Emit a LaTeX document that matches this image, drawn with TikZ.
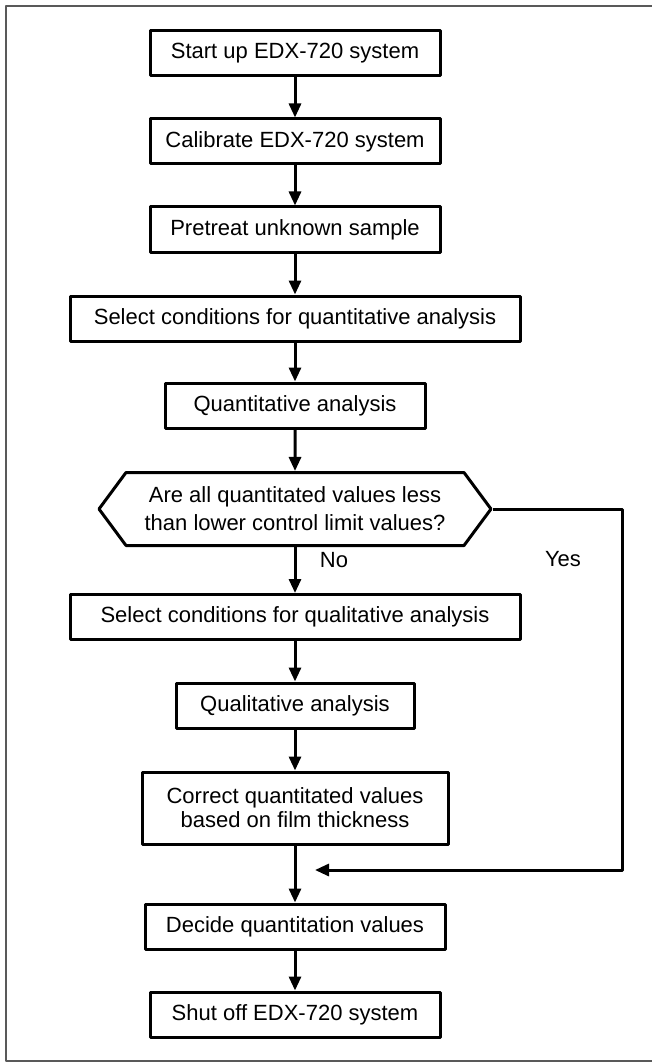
\documentclass[tikz,border=0pt]{standalone}
\usepackage{fontspec}
\setmainfont{Liberation Sans}
\usetikzlibrary{shapes.symbols,arrows.meta}

\begin{document}
\begin{tikzpicture}[x=0.5pt,y=-0.5pt,>={Triangle[length=7pt,width=6pt]},line join=round,
  font=\fontsize{11}{12}\selectfont,
  box/.style={draw,line width=1.5pt,minimum height=22.5pt,inner sep=0pt,align=center},
  decision/.style={draw,line width=1.5pt,shape=signal,signal to=west and east,signal pointer angle=107,inner sep=0pt,align=center},
  link/.style={line width=1.5pt,->}]
	\useasboundingbox (0,0) rectangle (652,1064);
	\draw[black!65,line width=1pt] (660,6)--(6,6)--(6,1061)--(660,1061);
	\node[box,minimum width=145pt] (start) at (295,53) {Start up EDX-720 system};
	\node[box,minimum width=145pt] (calib) at (295,141.5) {Calibrate EDX-720 system};
	\node[box,minimum width=145pt] (pretreat) at (295,229.5) {Pretreat unknown sample};
	\node[box,minimum width=225pt] (selquant) at (295,318.5) {Select conditions for quantitative analysis};
	\node[box,minimum width=130pt] (quant) at (295,405.5) {Quantitative analysis};
	\node[decision,minimum width=196pt,minimum height=36.5pt] (check) at (295,509) {Are all quantitated values less\\[2pt] than lower control limit values?};
	\node[box,minimum width=225pt] (selqual) at (295,617) {Select conditions for qualitative analysis};
	\node[box,minimum width=119pt] (qual) at (295,705.5) {Qualitative analysis};
	\node[box,minimum width=153pt,minimum height=36pt] (correct) at (295,808) {Correct quantitated values\\ based on film thickness};
	\node[box,minimum width=150pt] (decide) at (295,926.5) {Decide quantitation values};
	\node[box,minimum width=145pt] (shut) at (295,1014.5) {Shut off EDX-720 system};
	\node (no) at (334,560) {No};
	\node (yes) at (563,559) {Yes};
	\coordinate (yesend) at (315,870);
	\draw[link] (start) -- (calib);
	\draw[link] (calib) -- (pretreat);
	\draw[link] (pretreat) -- (selquant);
	\draw[link] (selquant) -- (quant);
	\draw[link] (quant) -- (check);
	\draw[link] (check) -- (selqual);
	\draw[link] (selqual) -- (qual);
	\draw[link] (qual) -- (correct);
	\draw[link] (correct) -- (decide);
	\draw[link] (decide) -- (shut);
	\draw[link] (check.east) -- ++(130,0) |- (yesend);
\end{tikzpicture}
\end{document}
